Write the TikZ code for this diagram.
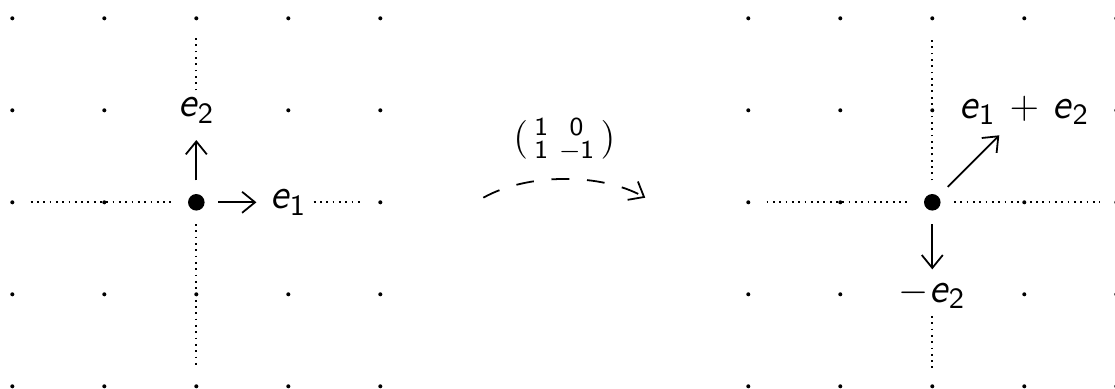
\documentclass[tikz,border=0pt]{standalone}
\usepackage{amsmath}
\usepackage{fontspec}
\usetikzlibrary{arrows.meta}
\newcommand\ev[1]{\ensuremath{\textsf{\textit{e}}_{\textsf{#1}}}}
\tikzset{
  griddot/.style={fill=black},
  dotline/.style={line width=0.55pt, dash pattern=on 0.55pt off 1.4pt},
  vecarrow/.style={-{Straight Barb[length=4pt,width=6.5pt]}, line width=0.55pt},
  lab/.style={font=\fontsize{13}{15}\selectfont, inner sep=2pt, fill=white},
  origin/.style={circle, minimum size=0.46cm, inner sep=0pt},
}
\begin{document}
\begin{tikzpicture}
\useasboundingbox (-2.134,-2.029) rectangle (9.986,2.199);
% grids
\foreach \i in {-2,...,2}{
  \foreach \j in {-2,...,2}{
    \fill[griddot] (\i,\j) circle (0.022);
    \fill[griddot] (8+\i,\j) circle (0.022);
  }
}
% left picture
\node[origin] (o1) at (0,0) {};
\fill (o1.center) circle (0.09);
\node[lab] (e1) at (1,0) {\ev{1}};
\node[lab] (e2) at (0,1) {\ev{2}};
\coordinate (l1) at (-1.8,0);
\coordinate (r1) at (1.8,0);
\coordinate (t1) at (0,1.8);
\coordinate (b1) at (0,-1.8);
\draw[dotline] (l1) -- (o1);
\draw[dotline] (e1) -- (r1);
\draw[dotline] (e2) -- (t1);
\draw[dotline] (o1) -- (b1);
\draw[vecarrow, shorten >=2pt] (o1) -- (e1);
\draw[vecarrow, shorten >=3pt] (o1) -- (e2);
% middle map
\coordinate (ms) at (3.12,0.05);
\coordinate (me) at (4.88,0.05);
\draw[vecarrow, dash pattern=on 5.5pt off 5.5pt] (ms) .. controls (3.6,0.32) and (4.4,0.32) .. (me);
\node[font=\fontsize{12}{14}\selectfont] (mat) at (4,0.68)
  {$(\begin{smallmatrix}\mathsf{1}&\mathsf{0}\\ \mathsf{1}&-\mathsf{1}\end{smallmatrix})$};
% right picture
\node[origin] (o2) at (8,0) {};
\fill (o2.center) circle (0.09);
\node[lab] (s) at (9,1) {\ev{1} $+$ \ev{2}};
\node[lab] (m) at (8,-1) {$-$\ev{2}};
\coordinate (l2) at (6.2,0);
\coordinate (r2) at (9.82,0);
\coordinate (t2) at (8,1.8);
\coordinate (b2) at (8,-1.8);
\draw[dotline] (l2) -- (o2);
\draw[dotline] (o2) -- (r2);
\draw[dotline] (o2) -- (t2);
\draw[dotline] (m) -- (b2);
\draw[vecarrow, shorten >=1.5pt] (o2) -- (s);
\draw[vecarrow, shorten >=1pt] (o2) -- (m);
\end{tikzpicture}
\end{document}
